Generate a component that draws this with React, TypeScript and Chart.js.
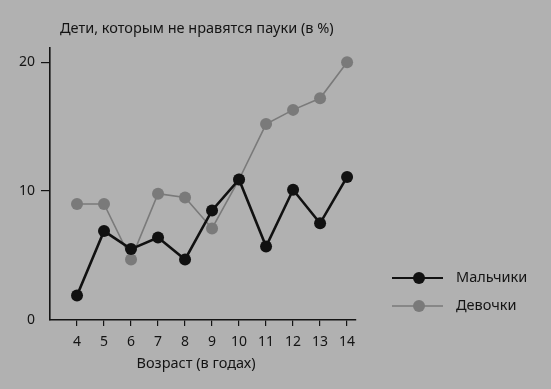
import React, { useEffect, useRef } from "react";
import { Chart, registerables } from "chart.js";

Chart.register(...registerables);

const ages = [4, 5, 6, 7, 8, 9, 10, 11, 12, 13, 14];
const boys = [1.9, 6.9, 5.5, 6.4, 4.7, 8.5, 10.9, 5.7, 10.1, 7.5, 11.1];
const girls = [9.0, 9.0, 4.7, 9.8, 9.5, 7.1, 10.9, 15.2, 16.3, 17.2, 20.0];
const yTicks = [0, 10, 20];
const titleText = "Дети, которым не нравятся пауки (в %)";
const xTitle = "Возраст (в годах)";
const seriesNames = ["Мальчики", "Девочки"];

const FONT = "'Noto Sans', 'Open Sans', sans-serif";
const BG = "#b1b1b1";
const INK = "#141414";
const BOY = "#111111";
const GIRL = "#7a7a7a";

export default function App() {
  const ref = useRef<HTMLCanvasElement | null>(null);

  useEffect(() => {
    if (!ref.current) return;
    const decor = {
      id: "decor",
      beforeDraw(chart: any) {
        const c = chart.ctx;
        c.save();
        c.fillStyle = BG;
        c.fillRect(0, 0, chart.width, chart.height);
        c.restore();
      },
      afterDraw(chart: any) {
        const c = chart.ctx;
        c.save();
        c.fillStyle = INK;
        c.font = `14.5px ${FONT}`;
        c.textBaseline = "middle";
        c.textAlign = "left";
        c.fillText(titleText, 60, 29);
        c.textAlign = "center";
        c.fillText(xTitle, 196, 364);
        const items = [
          { name: seriesNames[0], color: BOY, y: 278, lw: 2 },
          { name: seriesNames[1], color: GIRL, y: 306, lw: 1.5 },
        ];
        items.forEach((it) => {
          c.strokeStyle = it.color;
          c.lineWidth = it.lw;
          c.beginPath();
          c.moveTo(392, it.y);
          c.lineTo(443, it.y);
          c.stroke();
          c.fillStyle = it.color;
          c.beginPath();
          c.arc(419, it.y, 6, 0, Math.PI * 2);
          c.fill();
          c.fillStyle = INK;
          c.textAlign = "left";
          c.fillText(it.name, 456, it.y);
        });
        c.restore();
      },
    };

    const chart = new Chart(ref.current, {
      type: "line",
      data: {
        datasets: [
          {
            label: seriesNames[0],
            data: ages.map((a, i) => ({ x: a, y: boys[i] })),
            borderColor: BOY,
            backgroundColor: BOY,
            borderWidth: 2.6,
            pointRadius: 6,
            pointBorderWidth: 0,
            pointBackgroundColor: BOY,
            tension: 0,
          },
          {
            label: seriesNames[1],
            data: ages.map((a, i) => ({ x: a, y: girls[i] })),
            borderColor: GIRL,
            backgroundColor: GIRL,
            borderWidth: 1.6,
            pointRadius: 6,
            pointBorderWidth: 0,
            pointBackgroundColor: GIRL,
            tension: 0,
          },
        ],
      },
      options: {
        animation: false,
        responsive: false,
        maintainAspectRatio: false,
        layout: { padding: { left: 0, right: 195, top: 48, bottom: 0 } },
        plugins: {
          legend: { display: false },
          title: { display: false },
          tooltip: { enabled: false },
        },
        scales: {
          x: {
            type: "linear",
            min: 3,
            max: 14.33,
            afterBuildTicks: (s: any) => {
              s.ticks = ages.map((v) => ({ value: v }));
            },
            afterFit: (s: any) => {
              s.height = 69;
            },
            ticks: {
              color: INK,
              font: { family: FONT, size: 14 },
              padding: 8,
              maxRotation: 0,
              autoSkip: false,
            },
            grid: {
              drawOnChartArea: false,
              drawTicks: true,
              tickLength: 6,
              color: INK,
              lineWidth: 1.2,
            },
            border: { color: INK, width: 1.6 },
          },
          y: {
            type: "linear",
            min: 0,
            max: 21.1,
            afterBuildTicks: (s: any) => {
              s.ticks = yTicks.map((v) => ({ value: v }));
            },
            afterFit: (s: any) => {
              s.width = 50;
            },
            ticks: {
              color: INK,
              font: { family: FONT, size: 14 },
              padding: 6,
            },
            grid: {
              drawOnChartArea: false,
              drawTicks: true,
              tickLength: 9,
              color: (ctx: any) => (ctx.tick && ctx.tick.value === 0 ? "rgba(0,0,0,0)" : INK),
              lineWidth: 1.2,
            },
            border: { color: INK, width: 1.6 },
          },
        },
      },
      plugins: [decor],
    } as any);
    return () => chart.destroy();
  }, []);

  return (
    <div style={{ position: "fixed", left: 0, top: 0, width: 551, height: 389, background: BG }}>
      <canvas ref={ref} width={551} height={389} style={{ display: "block", width: 551, height: 389 }} />
    </div>
  );
}
